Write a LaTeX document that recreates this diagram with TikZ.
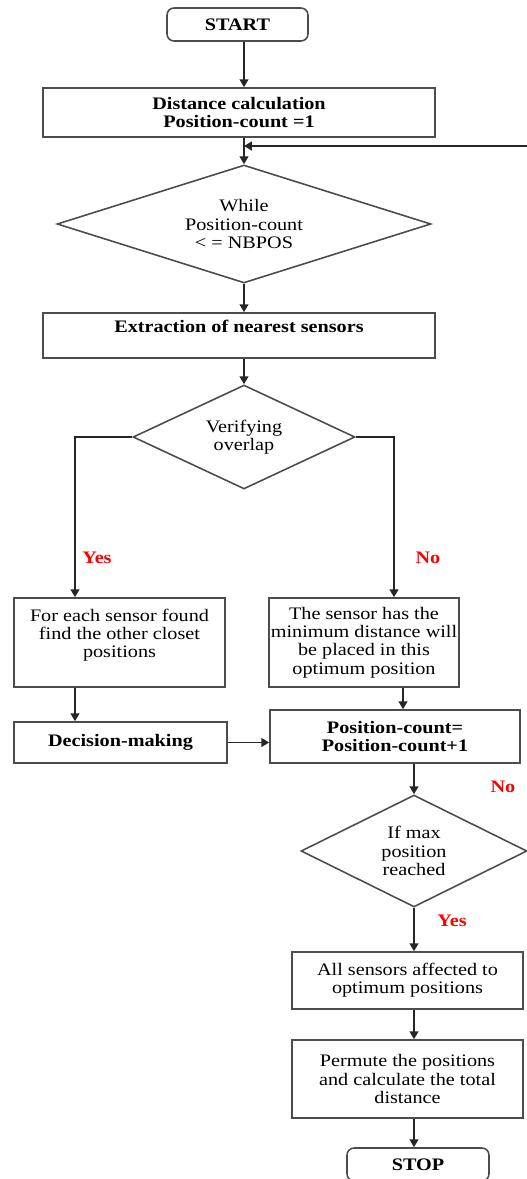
\documentclass[tikz,border=0pt]{standalone}
\usepackage{fontspec}
\setmainfont{Liberation Serif}[FakeStretch=1.15]
\usetikzlibrary{shapes.geometric, arrows.meta}

\begin{document}
\begin{tikzpicture}[x=0.02cm, y=-0.02cm,
    txt/.style={font=\fontsize{10}{10.4}\selectfont},
    bold/.style={font=\fontsize{10}{10.4}\selectfont\bfseries},
    box/.style={draw=black!70, line width=0.9pt, align=center, inner sep=1pt, txt},
    term/.style={box, bold, rounded corners=4pt},
    cond/.style={box, diamond, inner sep=0pt},
    arr/.style={-{Triangle[length=4.5pt,width=5pt]}, line width=1pt, black!85},
    lab/.style={text=red, bold}]

  \useasboundingbox (0,0) rectangle (527,1179);

  \coordinate (spine) at (244,0);  % main line
  \coordinate (lx) at (75,0);      % yes branch
  \coordinate (rx) at (394,0);     % no branch
  \coordinate (px) at (403,0);
  \coordinate (loopin) at (244,146);

  \node[term, minimum width=2.82cm, minimum height=0.66cm] (start) at (237.5,24.5) {START};
  \node[box, bold, minimum width=7.84cm, minimum height=0.98cm] (dist) at (239,112.5) {Distance calculation\\Position-count =1};
  \node[cond, aspect=3.17, minimum width=7.48cm, minimum height=2.36cm] (while) at (244,224) {While\\Position-count\\< = NBPOS};
  \node[box, bold, minimum width=7.84cm, minimum height=0.9cm] (extract) at (239,335.5) {Extraction of nearest sensors\\\mbox{}};
  \node[cond, aspect=2.13, minimum width=4.44cm, minimum height=2.08cm] (verify) at (244,437) {Verifying\\overlap};

  \node[box, minimum width=4.22cm, minimum height=1.78cm] (find) at (119.5,642.5) {For each sensor found\\find the other closet\\positions\\\mbox{}};
  \node[box, minimum width=3.76cm, minimum height=1.78cm] (place) at (364,642.5) {The sensor has the\\minimum distance will\\be placed in this\\optimum position};
  \node[box, bold, minimum width=4.26cm, minimum height=0.82cm] (decide) at (120.5,742.5) {Decision-making};
  \node[box, bold, minimum width=5cm, minimum height=1.06cm] (incr) at (395,736.5) {Position-count=\\Position-count+1};

  \node[cond, aspect=2, minimum width=4.52cm, minimum height=2.24cm] (ifmax) at (414,851) {If max\\position\\reached};
  \node[box, minimum width=4.62cm, minimum height=1.14cm] (allset) at (407.5,980.5) {All sensors affected to\\optimum positions};
  \node[box, minimum width=4.62cm, minimum height=1.56cm] (permute) at (407.5,1079) {Permute the positions\\and calculate the total\\distance};
  \node[term, minimum width=2.84cm, minimum height=0.66cm] (stop) at (418,1164.5) {STOP};

  \node[lab] (yes1) at (97,558) {Yes};
  \node[lab] (no1) at (428,558) {No};
  \node[lab] (no2) at (503,787) {No};
  \node[lab] (yes2) at (452,921) {Yes};

  \draw[arr] (start.south -| spine) -- (dist.north -| spine);
  \draw[arr] (dist.south -| spine) -- (while.north);
  \draw[arr] (ifmax.east) -- ++(30,0) |- (loopin); % back to the loop
  \draw[arr] (while.south) -- (extract.north -| spine);
  \draw[arr] (extract.south -| spine) -- (verify.north);

  \draw[arr] (verify.west) -| (find.north -| lx);
  \draw[arr] (verify.east) -| (place.north -| rx);
  \draw[arr] (find.south -| lx) -- (decide.north -| lx);
  \draw[arr] (decide.east) -- (decide.east -| incr.west);
  \draw[arr] (place.south -| px) -- (incr.north -| px);

  \draw[arr] (incr.south -| ifmax.north) -- (ifmax.north);
  \draw[arr] (ifmax.south) -- (allset.north -| ifmax.south);
  \draw[arr] (allset.south -| ifmax.south) -- (permute.north -| ifmax.south);
  \draw[arr] (permute.south -| ifmax.south) -- (stop.north -| ifmax.south);
\end{tikzpicture}
\end{document}
